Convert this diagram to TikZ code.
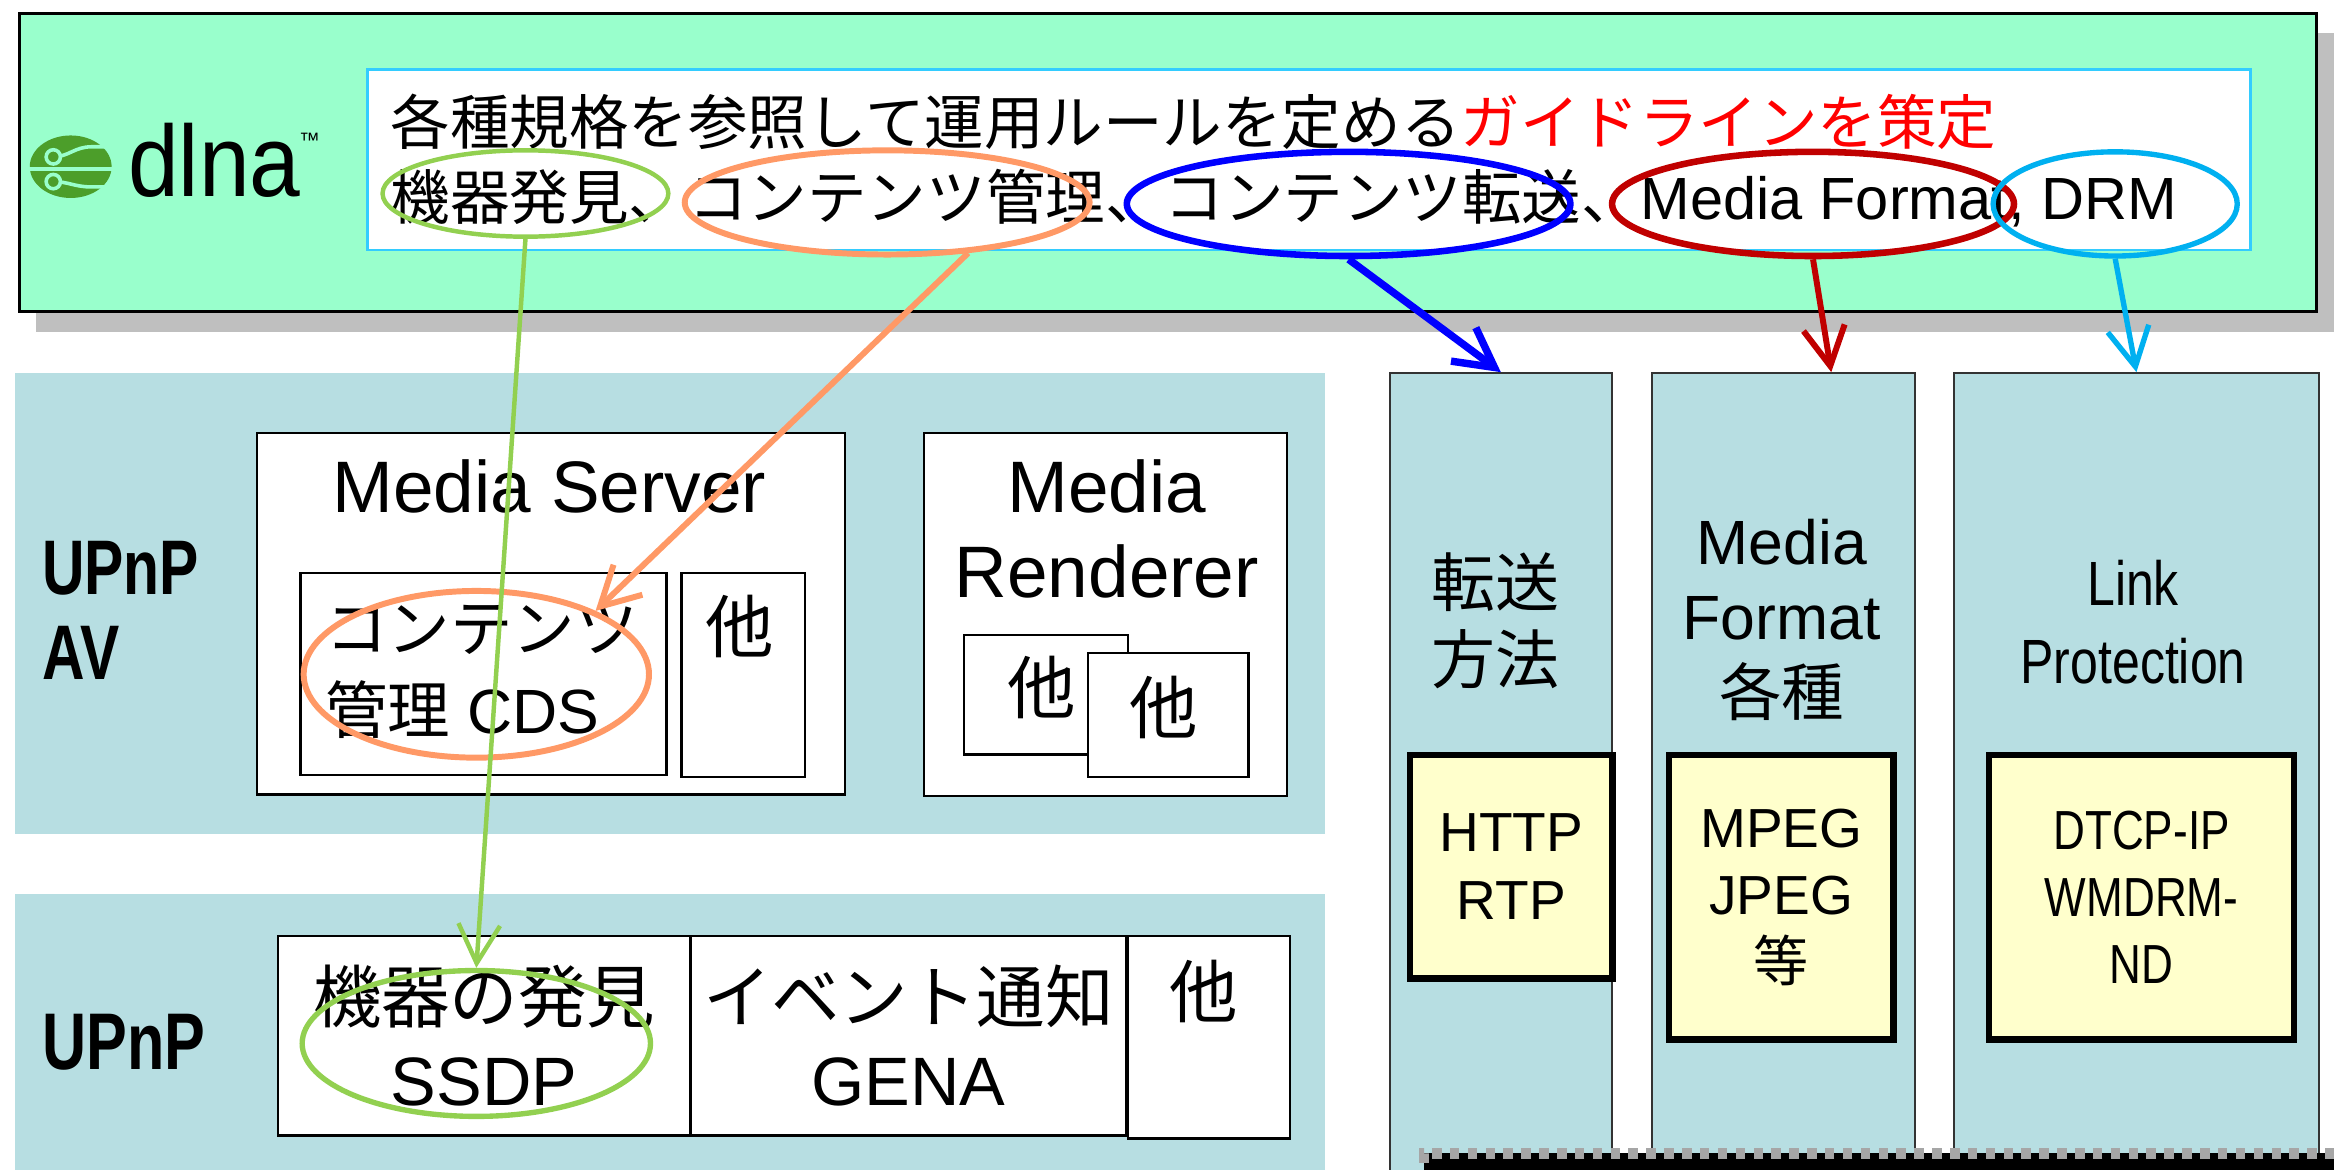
\documentclass[tikz,border=0pt]{standalone}
\usepackage{fontspec}
\setmainfont{Liberation Sans}
\newfontfamily\jp{Noto Sans CJK JP}
\newfontfamily\narrowsans[FakeStretch=0.8]{Liberation Sans}
\newfontfamily\upnpsans[FakeStretch=0.76]{Liberation Sans}
\newfontfamily\logosans[FakeStretch=0.9]{Liberation Sans}
\usetikzlibrary{shapes.geometric, arrows.meta, positioning}
\usepackage{xcolor}
\definecolor{mint}{RGB}{153,255,204}
\definecolor{panelblue}{RGB}{183,222,226}
\definecolor{notepaper}{RGB}{255,255,204}
\definecolor{skyline}{RGB}{51,204,255}
\definecolor{leafgreen}{RGB}{146,208,80}
\definecolor{salmon}{RGB}{255,153,102}
\definecolor{darkred}{RGB}{192,0,0}
\definecolor{drmcyan}{RGB}{0,176,240}
\definecolor{dlnagreen}{RGB}{76,158,42}
\definecolor{shadowgray}{RGB}{191,191,191}
\newcommand{\fsz}[2]{\fontsize{#1}{#2}\selectfont}

\begin{document}
\begin{tikzpicture}[x=1pt, y=-1pt,
    box/.style={rectangle, draw, line width=0.8pt, fill=white, inner sep=0pt, anchor=north west},
    panel/.style={rectangle, fill=panelblue, inner sep=0pt, anchor=north west},
    lane/.style={rectangle, draw=black!80, line width=0.75pt, fill=panelblue, inner sep=0pt, anchor=north west},
    memo/.style={rectangle, draw, line width=2.2pt, fill=notepaper, inner sep=0pt, anchor=north west},
    ring/.style={ellipse, draw=#1, inner sep=0pt},
    pointer/.style={draw=#1, -{Straight Barb[length=13pt, width=14pt]}},
    txt/.style={inner sep=0pt, align=center}
]
\clip (0,0) rectangle (784,393);

\fill[shadowgray] (12,11) rectangle (784,111.5);
\node[box, fill=mint, line width=1pt, minimum width=771.5pt, minimum height=100pt] (dlnaband) at (6,4) {};
\node[box, draw=skyline, minimum width=632.5pt, minimum height=60.5pt] (guidebox) at (123,23) {};
\node[txt, anchor=west, font=\jp\fsz{20}{24}] (guideline) at (131,41) {各種規格を参照して運用ルールを定める\textcolor{red}{ガイドラインを策定}};
\node[txt, anchor=west, font=\fsz{20}{24}] (areas) at (131,66.5) {{\jp 機器発見、コンテンツ管理、コンテンツ転送、}Media Format, DRM};

\fill[dlnagreen] (23.75,56) ellipse [x radius=13.75pt, y radius=10.5pt];
\draw[mint, line width=1.2pt] (9,56.8) -- (38,56.8);
\draw[mint, line width=1.2pt] (17.9,52.7) .. controls (23,52.7) and (25,49.3) .. (30.8,49.3) -- (38,49.3);
\draw[mint, line width=1.2pt] (17.9,61) .. controls (23,61) and (25,62.8) .. (30.8,62.8) -- (38,62.8);
\filldraw[draw=mint, fill=dlnagreen, line width=1.2pt] (17.9,52.7) circle [radius=2.4pt];
\filldraw[draw=mint, fill=dlnagreen, line width=1.2pt] (17.9,61) circle [radius=2.4pt];
\node[txt, font=\logosans\fsz{34}{34}] (dlnaword) at (72,54) {dlna};
\node[txt, font=\fsz{7}{7}] (dlnatm) at (104,47) {™};

\node[panel, minimum width=440pt, minimum height=155pt] (avpanel) at (5,125) {};
\node[panel, minimum width=440pt, minimum height=100pt] (upnppanel) at (5,300) {};
\node[lane, minimum width=74.5pt, minimum height=300pt] (transfer) at (466.5,125) {};
\node[lane, minimum width=88.5pt, minimum height=300pt] (format) at (554.5,125) {};
\node[lane, minimum width=122.5pt, minimum height=300pt] (protect) at (656,125) {};

\node[txt, anchor=west, align=left, font=\upnpsans\bfseries\fsz{26}{28.5}] (avlabel) at (14,205) {UPnP\\AV};
\node[txt, anchor=west, font=\upnpsans\bfseries\fsz{27}{28}] (upnplabel) at (14,350) {UPnP};

\node[box, minimum width=197.5pt, minimum height=121.5pt] (mediaserver) at (86,145) {};
\node[txt, font=\fsz{24.5}{28}] (mstitle) at (184.5,163.5) {Media Server};
\node[box, minimum width=123pt, minimum height=68pt] (cds) at (100.5,192) {};
\node[txt, anchor=west, align=left, font=\fsz{21}{27.5}] (cdstext) at (109,225.5) {{\jp コンテンツ}\\{\jp 管理} CDS};
\node[box, minimum width=41.5pt, minimum height=68.5pt] (msother) at (228.5,192) {};
\node[txt, font=\jp\fsz{23}{23}] (msothertext) at (248.5,210.5) {他};

\node[box, minimum width=122pt, minimum height=122pt] (renderer) at (310,145) {};
\node[txt, font=\fsz{24.5}{28.5}] (rdtitle) at (371.75,177.75) {Media\\Renderer};
\node[box, minimum width=55pt, minimum height=40pt] (rdother1) at (323.5,213) {};
\node[txt, font=\jp\fsz{23}{23}] (rdothertext1) at (350,231) {他};
\node[box, minimum width=54pt, minimum height=41.5pt] (rdother2) at (365,219) {};
\node[txt, font=\jp\fsz{23}{23}] (rdothertext2) at (391,237.5) {他};

\node[box, minimum width=138.5pt, minimum height=67pt] (discovery) at (93,314) {};
\node[box, minimum width=146.5pt, minimum height=67pt] (eventing) at (231.5,314) {};
\node[box, minimum width=54.5pt, minimum height=68pt] (upnpother) at (378.5,314) {};
\node[txt, font=\fsz{23}{28}] (ssdptext) at (discovery) {{\jp 機器の発見}\\SSDP};
\node[txt, font=\fsz{23}{28}] (genatext) at (eventing) {{\jp イベント通知}\\GENA};
\node[txt, font=\jp\fsz{23}{23}] (upnpothertext) at (404.5,333) {他};

\node[txt, font=\jp\fsz{21.5}{26}] (transfertext) at (502.5,208.5) {転送\\方法};
\node[txt, font=\fsz{21}{25.5}] (formattext) at (598.5,208.25) {Media\\Format\\{\jp 各種}};
\node[txt, font=\narrowsans\fsz{21}{26}] (protecttext) at (716.5,209) {Link\\Protection};

\node[memo, minimum width=68pt, minimum height=75pt] (httpbox) at (472.5,252.5) {};
\node[memo, minimum width=75.5pt, minimum height=95.5pt] (mpegbox) at (559.5,252.5) {};
\node[memo, minimum width=102.5pt, minimum height=95.5pt] (dtcpbox) at (667,252.5) {};
\node[txt, font=\fsz{18.5}{23}] (httptext) at (httpbox) {HTTP\\RTP};
\node[txt, font=\fsz{18.5}{22.5}] (mpegtext) at (mpegbox) {MPEG\\JPEG\\{\jp 等}};
\node[txt, font=\narrowsans\fsz{18.5}{22.5}] (dtcptext) at (dtcpbox) {DTCP-IP\\WMDRM-\\ND};

\node[rectangle, fill=black, draw=gray!70, dash pattern=on 3.2pt off 2.8pt, line width=3.4pt, inner sep=0pt, anchor=north west, minimum width=330pt, minimum height=30pt] (footbar) at (476.5,385.75) {};

\node[ring=leafgreen, line width=1.5pt, minimum width=96pt, minimum height=29pt] (ringfind) at (176.5,65) {};
\node[ring=salmon, line width=2pt, minimum width=136pt, minimum height=35pt] (ringcontent) at (298,68) {};
\node[ring=blue, line width=2.2pt, minimum width=149pt, minimum height=35pt] (ringmove) at (453,68.5) {};
\node[ring=darkred, line width=2.2pt, minimum width=135pt, minimum height=35pt] (ringformat) at (609,68.5) {};
\node[ring=drmcyan, line width=1.8pt, minimum width=82pt, minimum height=35pt] (ringdrm) at (710.5,68.5) {};
\node[ring=salmon, line width=2pt, minimum width=116pt, minimum height=56pt] (ringcds) at (160,226.5) {};
\node[ring=leafgreen, line width=1.8pt, minimum width=117pt, minimum height=49pt] (ringssdp) at (160,350.5) {};

\draw[pointer=leafgreen, line width=1.5pt] (ringfind.south) -- (ringssdp.north);
\draw[pointer=salmon, line width=2pt] (ringcontent.-32) -- (ringcds.28);
\draw[pointer=blue, line width=2.5pt] (ringmove.south) -- (transfer.north);
\draw[pointer=darkred, line width=2pt] (ringformat.south) -- ([xshift=16pt]format.north);
\draw[pointer=drmcyan, line width=1.8pt] (ringdrm.south) -- (protect.north);
\end{tikzpicture}
\end{document}
